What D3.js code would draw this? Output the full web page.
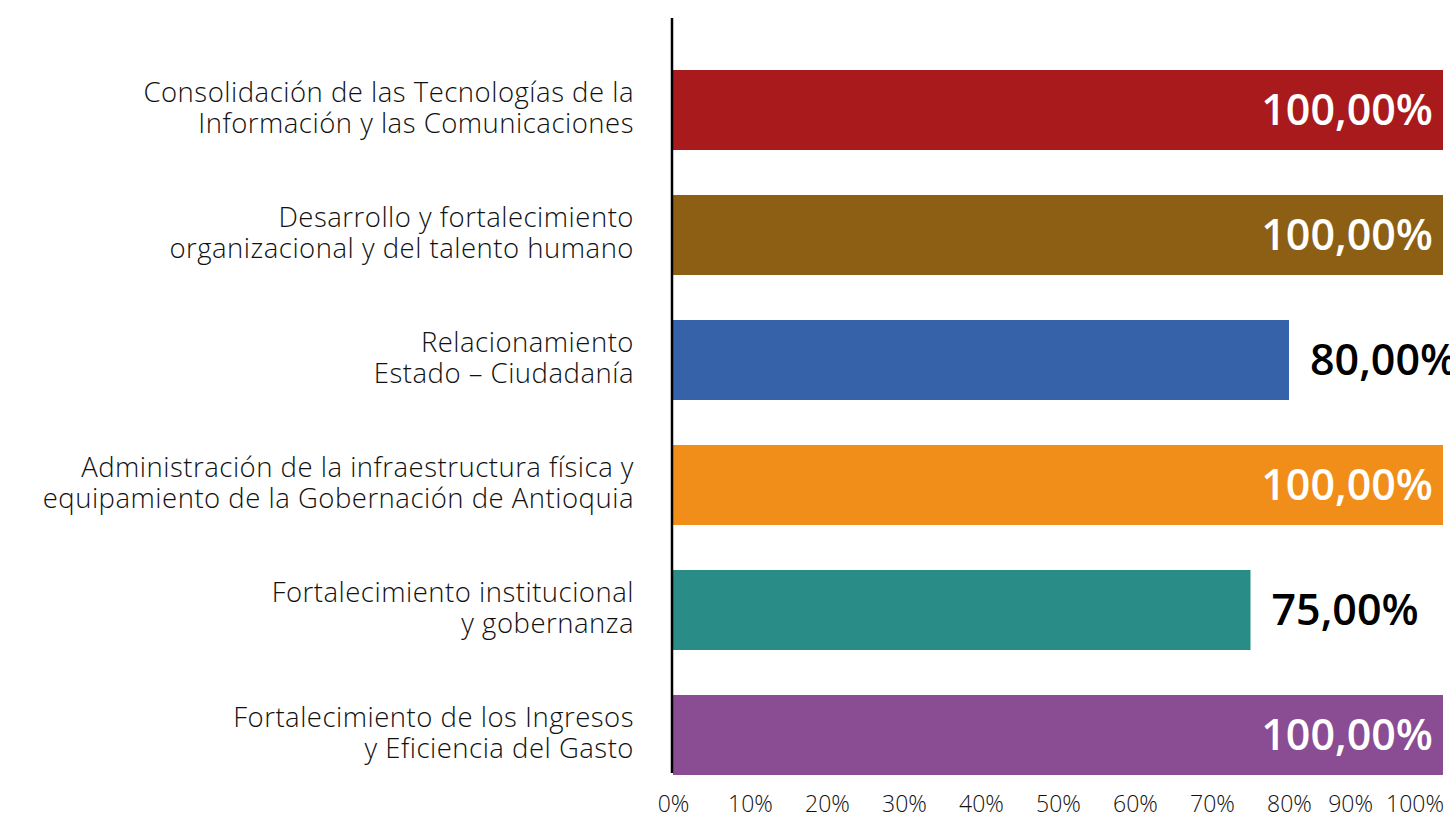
<!DOCTYPE html>
<html lang="es">
<head>
<meta charset="utf-8">
<script src="https://cdn.jsdelivr.net/npm/d3@7/dist/d3.min.js"></script>
<style>
  html, body { margin: 0; padding: 0; background: #ffffff; }
  svg { display: block; }
  .cat { font-family: "Open Sans", sans-serif; font-weight: 300; font-size: 27.5px; letter-spacing: 0.5px; fill: #111111; }
  .val { font-family: "Open Sans", sans-serif; font-weight: 600; font-size: 43px; }
  .tick text { font-family: "Open Sans", sans-serif; font-weight: 300; font-size: 23px; fill: #111111; }
</style>
</head>
<body>
<svg id="chart" width="1450" height="821"></svg>
<script>
// Programas y porcentaje de avance
const categories = [
  ["Consolidación de las Tecnologías de la", "Información y las Comunicaciones"],
  ["Desarrollo y fortalecimiento", "organizacional y del talento humano"],
  ["Relacionamiento", "Estado – Ciudadanía"],
  ["Administración de la infraestructura física y", "equipamiento de la Gobernación de Antioquia"],
  ["Fortalecimiento institucional", "y gobernanza"],
  ["Fortalecimiento de los Ingresos", "y Eficiencia del Gasto"]
];
const values = [1.00, 1.00, 0.80, 1.00, 0.75, 1.00];
const colors = ["#A81A1B", "#8C5F15", "#3662A9", "#F08E19", "#298C87", "#8A4C93"];
const tickValues = [0, 0.1, 0.2, 0.3, 0.4, 0.5, 0.6, 0.7, 0.8, 0.9, 1.0];

const W = 1450, H = 821;
const svg = d3.select("#chart");

const x = d3.scaleLinear().domain([0, 1]).range([673, 1443]);
const y = d3.scaleBand()
  .domain(d3.range(categories.length))
  .range([47.5, 797.5])
  .paddingInner(0.36)
  .paddingOuter(0.18);

const fmt = v => d3.format(".2f")(v * 100).replace(".", ",") + "%";

// bars
svg.append("g").selectAll("rect")
  .data(values)
  .join("rect")
  .attr("x", x(0))
  .attr("y", (d, i) => y(i))
  .attr("width", d => x(d) - x(0))
  .attr("height", y.bandwidth())
  .attr("fill", (d, i) => colors[i]);

// vertical baseline
svg.append("line")
  .attr("x1", x(0) - 1).attr("x2", x(0) - 1)
  .attr("y1", 18).attr("y2", 773)
  .attr("stroke", "#000").attr("stroke-width", 2.5);

// category labels, two lines each, right aligned
const catG = svg.append("g");
categories.forEach((lines, i) => {
  const cy = y(i) + y.bandwidth() / 2;
  const t = catG.append("text")
    .attr("class", "cat")
    .attr("text-anchor", "end")
    .attr("x", 634)
    .attr("y", cy);
  lines.forEach((ln, j) => {
    t.append("tspan")
      .attr("x", 634)
      .attr("y", cy - 2 + (j - (lines.length - 1) / 2) * 31)
      .attr("dy", "0.35em")
      .text(ln);
  });
});

// value labels: inside (white) for full bars, outside (black) otherwise
svg.append("g").selectAll("text")
  .data(values)
  .join("text")
  .attr("class", "val")
  .attr("y", (d, i) => y(i) + y.bandwidth() / 2)
  .attr("dy", "0.36em")
  .attr("x", d => d >= 1 ? x(d) - 10 : x(d) + 21)
  .attr("text-anchor", d => d >= 1 ? "end" : "start")
  .attr("fill", d => d >= 1 ? "#ffffff" : "#000000")
  .text(fmt);

// x axis labels
const xAxis = d3.axisBottom(x)
  .tickValues(tickValues)
  .tickFormat(d => Math.round(d * 100) + "%")
  .tickSize(0)
  .tickPadding(0);
const axG = svg.append("g")
  .attr("transform", "translate(0,795)")
  .call(xAxis);
axG.select(".domain").remove();
axG.selectAll(".tick text").attr("dy", "0.75em");

// keep labels inside the page: push overflowing ones left, keeping a gap
const texts = axG.selectAll(".tick text").nodes();
let limit = W - 6;
for (let i = texts.length - 1; i >= 0; i--) {
  const t = texts[i];
  const b = t.getBBox();
  const tr = t.parentNode.transform.baseVal.consolidate().matrix.e;
  const right = tr + b.x + b.width;
  let shift = 0;
  if (right > limit) shift = limit - right;
  d3.select(t).attr("x", shift);
  limit = tr + b.x + shift - 13;
}
</script>
</body>
</html>
